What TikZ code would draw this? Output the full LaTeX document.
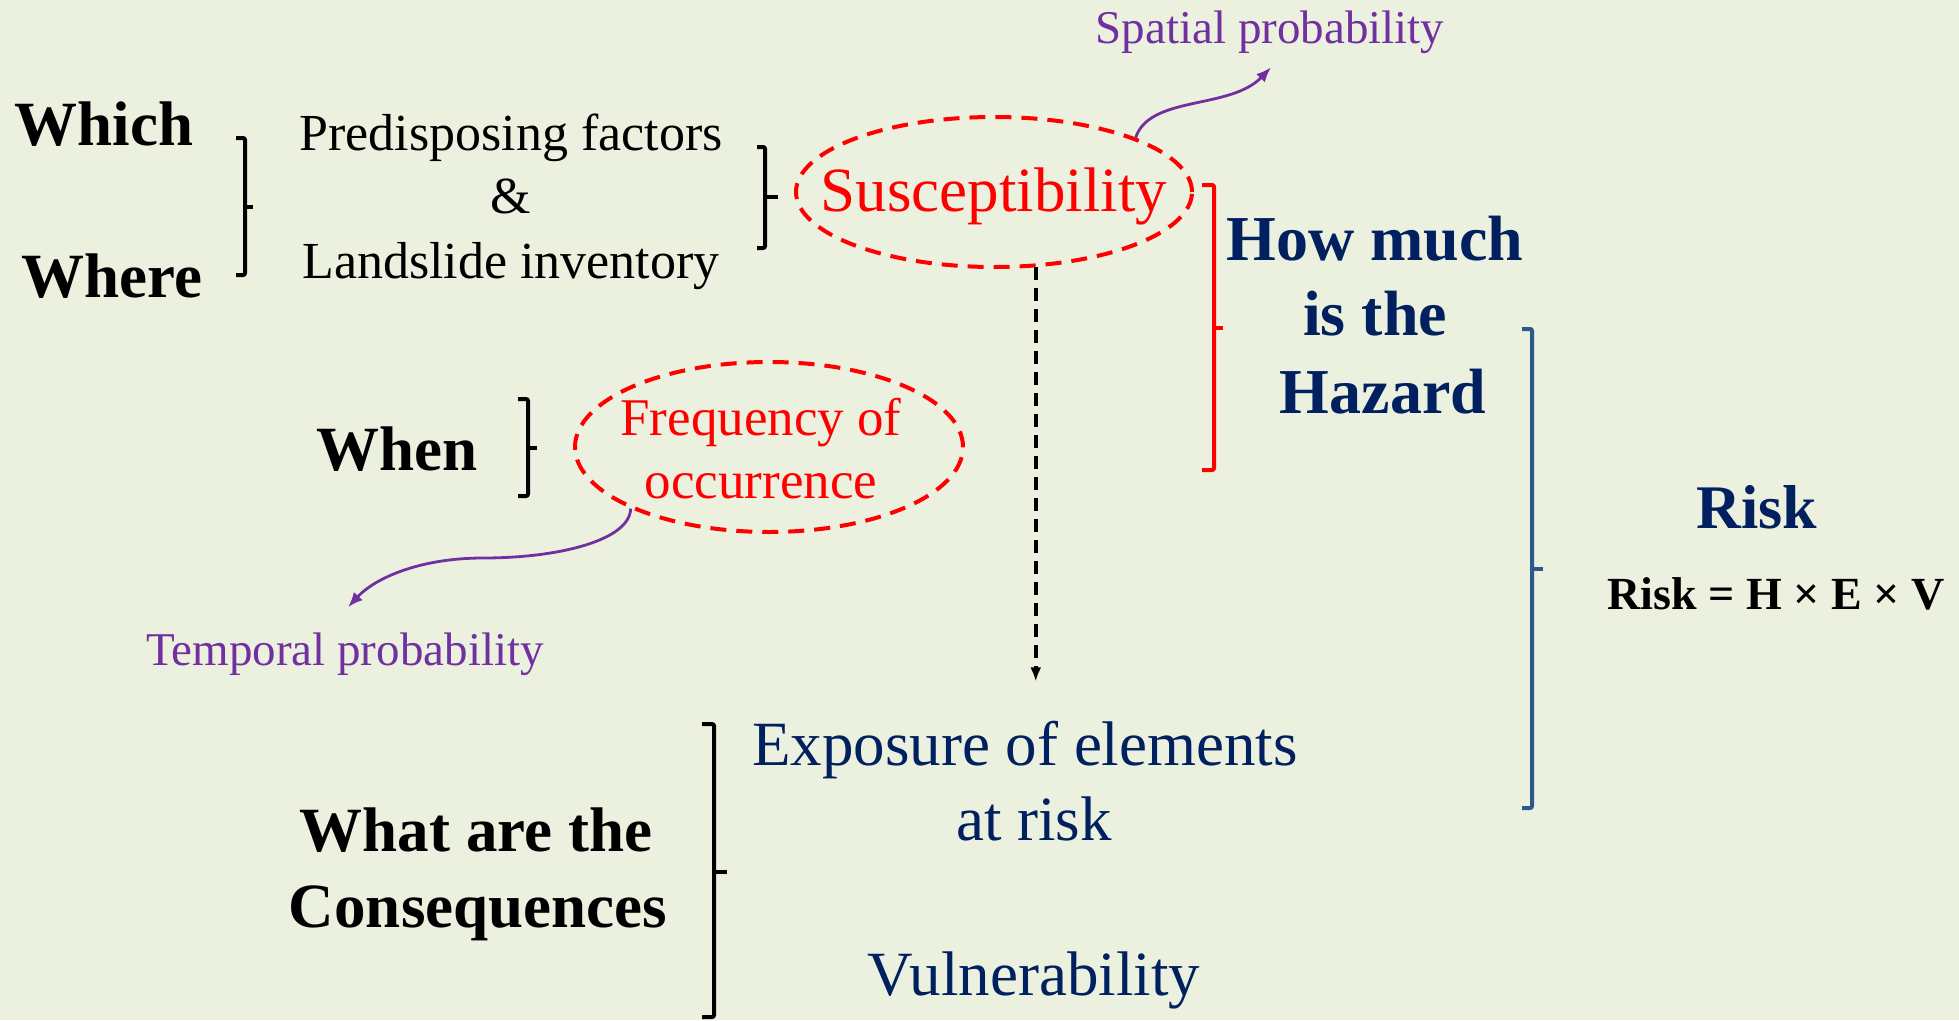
\documentclass[tikz,border=0pt]{standalone}
\usepackage{fontspec}
\setmainfont{Liberation Serif}
\usepackage{xcolor}
\usepackage{tikz}
\usetikzlibrary{arrows.meta,shapes.geometric}

\definecolor{bgolive}{HTML}{EBF1DE}
\definecolor{hznavy}{HTML}{002060}
\definecolor{probpurple}{HTML}{7030A0}
\definecolor{riskblue}{HTML}{2B5A8A}

\begin{document}
\begin{tikzpicture}[x=1pt, y=-1pt, every node/.style={inner sep=0pt},
    qword/.style={anchor=base, font=\fontsize{63}{63}\selectfont\bfseries},
    factline/.style={anchor=base, font=\fontsize{52}{52}\selectfont},
    hzword/.style={anchor=base, text=hznavy, font=\fontsize{64}{64}\selectfont\bfseries},
    navyline/.style={anchor=base, text=hznavy, font=\fontsize{63}{63}\selectfont},
    probtext/.style={anchor=base, text=probpurple, font=\fontsize{47}{47}\selectfont},
    brack/.style={line width=4pt, rounded corners=2pt},
    dashell/.style={ellipse, draw=red, line width=4pt, dash pattern=on 16pt off 10pt},
    probarrow/.style={draw=probpurple, line width=2.8pt, -{Latex[length=15pt,width=12pt]}}]
            \fill[bgolive] (0,0) rectangle (1959,1020);
            \useasboundingbox (0,0) rectangle (1959,1020);

            % which / where
            \node[qword] (which) at (104,145) {Which};
            \node[qword] (where) at (112,297) {Where};
            \draw[brack] (236,138) -- (245,138) -- (245,275) -- (236,275);
            \draw[brack] (245,207) -- (253,207);
            \node[factline] (pred) at (511,150) {Predisposing factors};
            \node[factline] (amp) at (511,213) {\&};
            \node[factline] (inv) at (511,278) {Landslide inventory};
            \draw[brack] (757,147) -- (765,147) -- (765,248) -- (757,248);
            \draw[brack] (765,197) -- (778,197);

            % susceptibility
            \node[dashell, minimum width=396pt, minimum height=150pt] (susc) at (994,192) {};
            \node[anchor=base, text=red, font=\fontsize{63}{63}\selectfont] (susctxt) at (994,211) {Susceptibility};
            \node[probtext] (spat) at (1270,43) {Spatial probability};
            \draw[probarrow] (susc.21) .. controls (1150,95) and (1230,110) .. ([xshift=1pt,yshift=-14pt]spat.south);

            % hazard
            \draw[brack, draw=red] (1202,185) -- (1214,185) -- (1214,470) -- (1202,470);
            \draw[brack, draw=red] (1214,328) -- (1223,328);
            \node[hzword] (haz1) at (1375,260) {How much};
            \node[hzword] (haz2) at (1375,335) {is the};
            \node[hzword] (haz3) at (1383,413) {Hazard};

            % when
            \node[qword] (when) at (397,470) {When};
            \draw[brack] (518,399) -- (528,399) -- (528,496) -- (518,496);
            \draw[brack] (528,448) -- (537,448);
            \node[dashell, minimum width=388pt, minimum height=170pt] (freq) at (769,447) {};
            \node[anchor=base, text=red, font=\fontsize{53}{53}\selectfont] (freq1) at (761,435) {Frequency of};
            \node[anchor=base, text=red, font=\fontsize{53}{53}\selectfont] (freq2) at (761,498) {occurrence};
            \node[probtext] (temp) at (345,665) {Temporal probability};
            \draw[probarrow] (freq.204) .. controls (630,540) and (560,558) .. (483,558)
            .. controls (420,558) and (375,578) .. ([xshift=3pt,yshift=25pt]temp.north);

            % consequences
            \node[qword] (cons1) at (476,851) {What are the};
            \node[qword] (cons2) at (478,927) {Consequences};
            \draw[brack] (702,724) -- (714,724) -- (714,1017) -- (702,1017);
            \draw[brack] (714,872) -- (727,872);
            \node[navyline] (expo1) at (1025,765) {Exposure of elements};
            \node[navyline] (expo2) at (1034,840) {at risk};
            \node[navyline] (vuln) at (1034,995) {Vulnerability};
            \draw[line width=3.5pt, dash pattern=on 13pt off 8pt, -{Latex[length=14pt,width=11pt]}, shorten >=39pt]
            (susc.-61) -- (susc.-61 |- expo1.north);

            % risk
            \draw[brack, draw=riskblue] (1522,329) -- (1532,329) -- (1532,808) -- (1522,808);
            \draw[brack, draw=riskblue] (1532,569) -- (1543,569);
            \node[hzword, font=\fontsize{62}{62}\selectfont\bfseries] (risk) at (1757,528) {Risk};
            \node[anchor=base, font=\fontsize{46}{46}\selectfont\bfseries] (formula) at (1776,609) {Risk = H × E × V};
        \end{tikzpicture}
\end{document}
